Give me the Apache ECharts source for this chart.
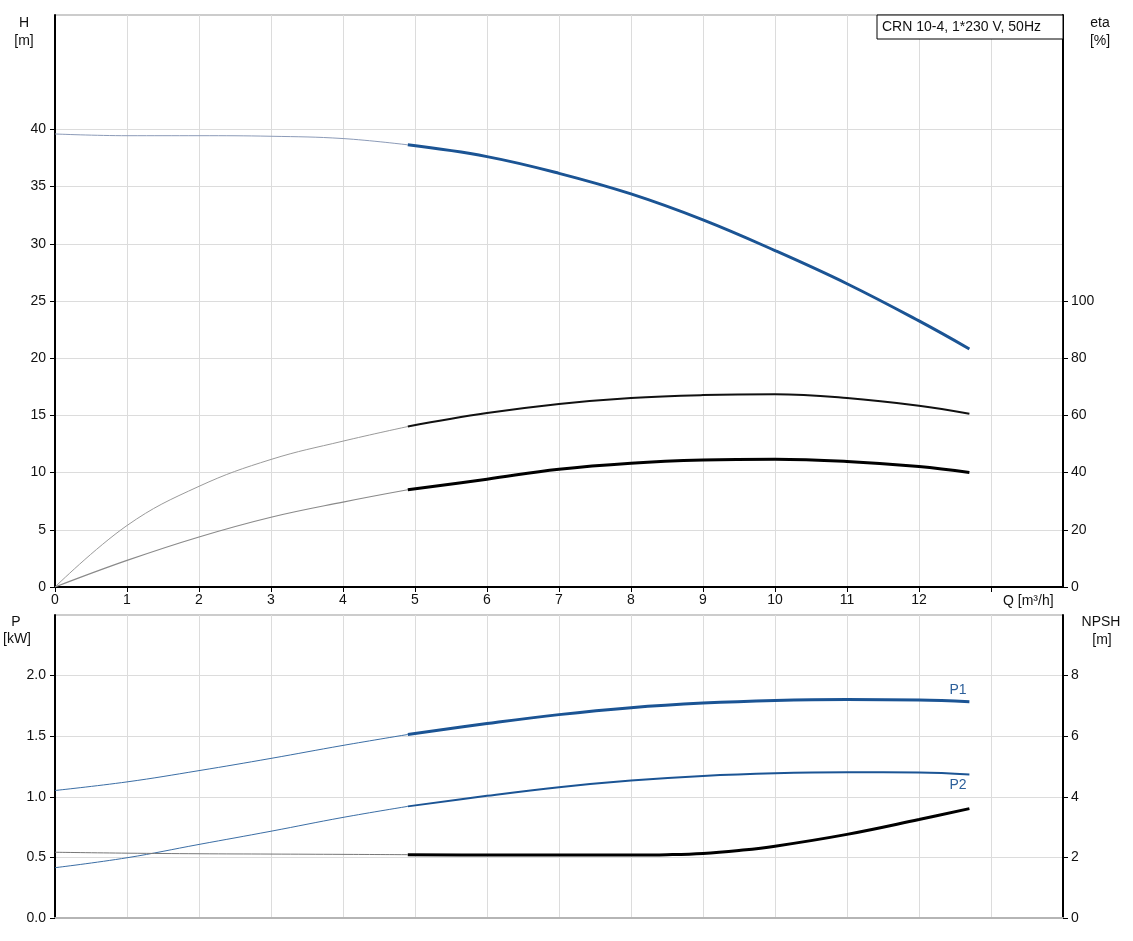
<!DOCTYPE html>
<html>
<head>
<meta charset="utf-8">
<script src="https://cdn.jsdelivr.net/npm/echarts@6/dist/echarts.min.js"></script>
<style>
html,body{margin:0;padding:0;background:#fff;}
#c{width:1133px;height:941px;}
</style>
</head>
<body>
<div id="c"></div>
<script>
// ---- data ----
var qMain = [0, 1, 2, 3, 4, 4.9, 6, 7, 8, 9, 10, 11, 12, 12.7];
var headH = [39.6, 39.45, 39.45, 39.4, 39.2, 38.65, 37.62, 36.16, 34.36, 32.09, 29.41, 26.51, 23.26, 20.81];
var etaPump = [0, 21.5, 35.2, 44.6, 51.0, 56.1, 60.8, 64.0, 66.1, 67.1, 67.4, 66.1, 63.4, 60.6];
var etaTotal = [0, 9.3, 17.5, 24.4, 29.7, 34.0, 37.7, 41.2, 43.3, 44.4, 44.7, 43.9, 42.1, 40.0];
var powerP1 = [1.052, 1.123, 1.216, 1.317, 1.424, 1.514, 1.604, 1.678, 1.735, 1.773, 1.795, 1.803, 1.798, 1.784];
var powerP2 = [0.415, 0.497, 0.607, 0.716, 0.83, 0.921, 1.008, 1.079, 1.134, 1.172, 1.194, 1.202, 1.2, 1.183];
var qNpsh = [0, 1, 2, 3, 4, 4.9, 6, 7, 8, 8.5, 9, 9.5, 10, 11, 12, 12.7];
var npsh = [2.17, 2.14, 2.12, 2.11, 2.10, 2.09, 2.08, 2.08, 2.08, 2.09, 2.13, 2.23, 2.37, 2.76, 3.25, 3.61];
var dutyStart = 4.9;
var xTicks = [0, 1, 2, 3, 4, 5, 6, 7, 8, 9, 10, 11, 12, 13];
var xTickLabels = [0, 1, 2, 3, 4, 5, 6, 7, 8, 9, 10, 11, 12];
var hTicks = [0, 5, 10, 15, 20, 25, 30, 35, 40];
var etaTicks = [0, 20, 40, 60, 80, 100];
var pTicks = [0, 0.5, 1.0, 1.5, 2.0];
var npshTicks = [0, 2, 4, 6, 8];
var qAxisName = 'Q [m³/h]';
var titleText = 'CRN 10-4, 1*230 V, 50Hz';
var curveLabels = ['P1', 'P2'];

// ---- helpers ----
function pairs(qs, vs) { return qs.map(function (q, i) { return [q, vs[i]]; }); }
function thinPart(qs, vs) { return pairs(qs, vs).filter(function (p) { return p[0] <= dutyStart; }); }
function thickPart(qs, vs) { return pairs(qs, vs).filter(function (p) { return p[0] >= dutyStart; }); }

var FONT = 'Liberation Sans, Arial, sans-serif';
var BLUE = '#1b5494';
var TXT = '#111';

function line(name, data, xi, yi, color, width, extra) {
  var s = {
    name: name, type: 'line', data: data, xAxisIndex: xi, yAxisIndex: yi,
    showSymbol: false, symbol: 'none', smooth: 0.4, silent: true,
    lineStyle: { color: color, width: width }, z: 5
  };
  if (extra) { for (var k in extra) s[k] = extra[k]; }
  return s;
}

var chart = echarts.init(document.getElementById('c'), null, { renderer: 'canvas' });

var xBase = {
  type: 'value', min: 0, max: 14, interval: 1,
  splitLine: { show: true, lineStyle: { color: '#dcdcdc', width: 1 } }
};
function yAx(grid, pos, min, max, interval, ticks, fmt, split) {
  return {
    type: 'value', gridIndex: grid, position: pos, min: min, max: max, interval: interval,
    axisLine: { show: true, onZero: false, lineStyle: { color: '#000', width: 2 } },
    axisTick: { show: true, length: 5, customValues: ticks, lineStyle: { color: '#000' } },
    axisLabel: { color: TXT, fontSize: 14, fontFamily: FONT, margin: pos === 'left' ? 9 : 8,
      customValues: ticks, formatter: fmt },
    splitLine: { show: split, lineStyle: { color: '#dcdcdc', width: 1 } }
  };
}

var option = {
  animation: false,
  backgroundColor: '#fff',
  textStyle: { fontFamily: FONT },
  grid: [
    { left: 55, right: 70, top: 15, height: 572, show: true, borderColor: '#999', borderWidth: 1, backgroundColor: 'transparent' },
    { left: 55, right: 70, top: 615, height: 303, show: true, borderColor: '#999', borderWidth: 1, backgroundColor: 'transparent' }
  ],
  xAxis: [
    Object.assign({}, xBase, {
      gridIndex: 0,
      axisLine: { show: true, onZero: false, lineStyle: { color: '#000', width: 2 } },
      axisTick: { show: true, length: 5, customValues: xTicks, lineStyle: { color: '#000', width: 1 } },
      axisLabel: { color: TXT, fontSize: 14, fontFamily: FONT, margin: 6, customValues: xTickLabels }
    }),
    Object.assign({}, xBase, {
      gridIndex: 1,
      axisLine: { show: true, onZero: false, lineStyle: { color: '#b5b5b5', width: 2 } },
      axisTick: { show: false },
      axisLabel: { show: false }
    })
  ],
  yAxis: [
    yAx(0, 'left', 0, 50, 5, hTicks, function (v) { return String(v); }, true),
    yAx(0, 'right', 0, 200, 20, etaTicks, function (v) { return String(v); }, false),
    yAx(1, 'left', 0, 2.5, 0.5, pTicks, function (v) { return v.toFixed(1); }, true),
    yAx(1, 'right', 0, 10, 2, npshTicks, function (v) { return String(v); }, false)
  ],
  series: [
    line('H thin', thinPart(qMain, headH), 0, 0, '#8c9bb8', 1),
    line('H', thickPart(qMain, headH), 0, 0, BLUE, 3),
    line('eta pump thin', thinPart(qMain, etaPump), 0, 1, '#9a9a9a', 1),
    line('eta pump', thickPart(qMain, etaPump), 0, 1, '#111', 2),
    line('eta total thin', thinPart(qMain, etaTotal), 0, 1, '#8a8a8a', 1.2),
    line('eta total', thickPart(qMain, etaTotal), 0, 1, '#000', 3),
    line('P1 thin', thinPart(qMain, powerP1), 1, 2, '#3b6ea5', 1),
    line('P1', thickPart(qMain, powerP1), 1, 2, BLUE, 3, {
      endLabel: { show: true, formatter: curveLabels[0], color: '#2c5f9a', fontSize: 14, fontFamily: FONT, offset: [-28, -12] }
    }),
    line('P2 thin', thinPart(qMain, powerP2), 1, 2, '#3b6ea5', 1),
    line('P2', thickPart(qMain, powerP2), 1, 2, BLUE, 2, {
      endLabel: { show: true, formatter: curveLabels[1], color: '#2c5f9a', fontSize: 14, fontFamily: FONT, offset: [-28, 11] }
    }),
    line('NPSH thin', thinPart(qNpsh, npsh), 1, 3, '#777', 1),
    line('NPSH', thickPart(qNpsh, npsh), 1, 3, '#000', 3)
  ],
  graphic: [
    { type: 'text', x: 24, y: 23, style: { text: 'H', fill: TXT, font: '14px ' + FONT, textAlign: 'center', textVerticalAlign: 'middle' } },
    { type: 'text', x: 24, y: 41, style: { text: '[m]', fill: TXT, font: '14px ' + FONT, textAlign: 'center', textVerticalAlign: 'middle' } },
    { type: 'text', x: 1100, y: 23, style: { text: 'eta', fill: TXT, font: '14px ' + FONT, textAlign: 'center', textVerticalAlign: 'middle' } },
    { type: 'text', x: 1100, y: 41, style: { text: '[%]', fill: TXT, font: '14px ' + FONT, textAlign: 'center', textVerticalAlign: 'middle' } },
    { type: 'text', x: 16, y: 622, style: { text: 'P', fill: TXT, font: '14px ' + FONT, textAlign: 'center', textVerticalAlign: 'middle' } },
    { type: 'text', x: 17, y: 639, style: { text: '[kW]', fill: TXT, font: '14px ' + FONT, textAlign: 'center', textVerticalAlign: 'middle' } },
    { type: 'text', x: 1101, y: 622, style: { text: 'NPSH', fill: TXT, font: '14px ' + FONT, textAlign: 'center', textVerticalAlign: 'middle' } },
    { type: 'text', x: 1102, y: 640, style: { text: '[m]', fill: TXT, font: '14px ' + FONT, textAlign: 'center', textVerticalAlign: 'middle' } },
    { type: 'text', x: 1003, y: 601, style: { text: qAxisName, fill: TXT, font: '14px ' + FONT, textAlign: 'left', textVerticalAlign: 'middle' } },
    { type: 'rect', shape: { x: 877, y: 15, width: 186, height: 24 }, style: { fill: '#fff', stroke: '#000', lineWidth: 1 }, z: 100 },
    { type: 'text', x: 882, y: 27, z: 101, style: { text: titleText, fill: TXT, font: '14px ' + FONT, textAlign: 'left', textVerticalAlign: 'middle' } }
  ]
};
chart.setOption(option);
</script>
</body>
</html>
